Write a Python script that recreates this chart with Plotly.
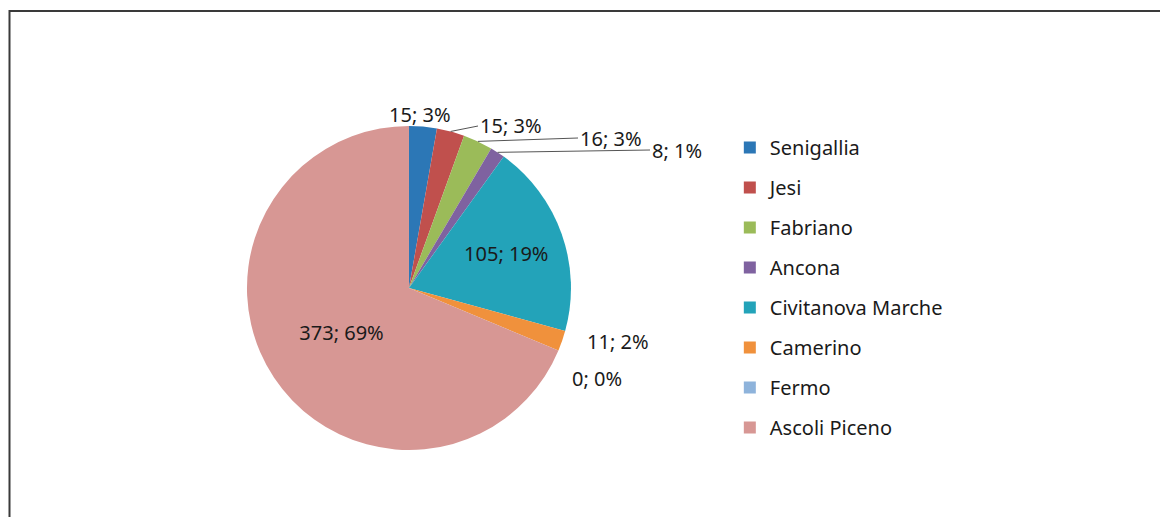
import math
import plotly.graph_objects as go

categories = ["Senigallia", "Jesi", "Fabriano", "Ancona", "Civitanova Marche",
              "Camerino", "Fermo", "Ascoli Piceno"]
values = [15, 15, 16, 8, 105, 11, 0, 373]
colors = ["#2C77B6", "#C0504D", "#9BBB59", "#7F62A0", "#23A3B9",
          "#F0913C", "#8EB3DB", "#D79794"]
text_pos = ["none", "none", "none", "none", "inside",
            "none", "none", "inside"]

W, H = 1168, 517
FONT = "Noto Sans, Open Sans, sans-serif"
DOM_X = [0.2046, 0.4820]
DOM_Y = [0.1451, 0.7718]

# label placement (pixel positions of text anchors, leader line shown?) for small slices
label_spots = {0: (412, 106, "center", False), 1: (470, 118, "left", True),
               2: (570, 130, "left", True), 3: (642, 142, "left", True),
               5: (577, 333, "left", False), 6: (562, 370, "left", False)}

fig = go.Figure()
fig.add_trace(go.Pie(
    labels=categories, values=values, sort=False, direction="clockwise",
    rotation=0, marker=dict(colors=colors, line=dict(width=0)),
    texttemplate="%{value}; %{percent:.0%}", textposition=text_pos,
    insidetextorientation="horizontal",
    textfont=dict(family=FONT, size=20, color="#1a1a1a"),
    domain=dict(x=DOM_X, y=DOM_Y),
    showlegend=False, hoverinfo="label+value+percent",
))

for name, col in zip(categories, colors):
    fig.add_trace(go.Scatter(
        x=[None], y=[None], mode="markers", name=name, legendgroup=name,
        marker=dict(symbol="square", size=12, color=col),
    ))

# labels for small slices, anchored at slice edge midpoints
total = sum(values)
cx = (DOM_X[0] + DOM_X[1]) / 2 * W
cy = (1 - (DOM_Y[0] + DOM_Y[1]) / 2) * H
r = (DOM_Y[1] - DOM_Y[0]) * H / 2
annotations = []
cum = 0
for i, v in enumerate(values):
    mid = cum + v / 2
    cum += v
    if i not in label_spots:
        continue
    phi = 2 * math.pi * mid / total
    px = cx + r * math.sin(phi)
    py = cy - r * math.cos(phi)
    tx, ty, anchor, line = label_spots[i]
    annotations.append(dict(
        x=px / W, y=1 - py / H, xref="paper", yref="paper",
        ax=tx - px, ay=ty - py, axref="pixel", ayref="pixel",
        text=f"{v}; {round(100 * v / total)}%", showarrow=True,
        arrowhead=0, arrowwidth=1,
        arrowcolor="#555555" if line else "rgba(0,0,0,0)", standoff=0,
        xanchor=anchor, yanchor="middle",
        font=dict(family=FONT, size=20, color="#1a1a1a"),
    ))

fig.update_layout(
    width=W, height=H,
    margin=dict(l=0, r=0, t=0, b=0),
    paper_bgcolor="white", plot_bgcolor="white",
    font=dict(family=FONT, size=20, color="#1a1a1a"),
    xaxis=dict(visible=False), yaxis=dict(visible=False),
    legend=dict(x=0.618, y=0.768, xanchor="left", yanchor="top",
                tracegroupgap=11, font=dict(family=FONT, size=20, color="#1a1a1a"),
                bgcolor="rgba(0,0,0,0)"),
    annotations=annotations,
    shapes=[dict(type="rect", xref="paper", yref="paper",
                 x0=1.5/W, x1=1.05, y0=-0.05, y1=(H-3)/H,
                 line=dict(color="#3a3a3a", width=2), fillcolor="rgba(0,0,0,0)",
                 layer="below")],
)

fig.write_html("out.html")
